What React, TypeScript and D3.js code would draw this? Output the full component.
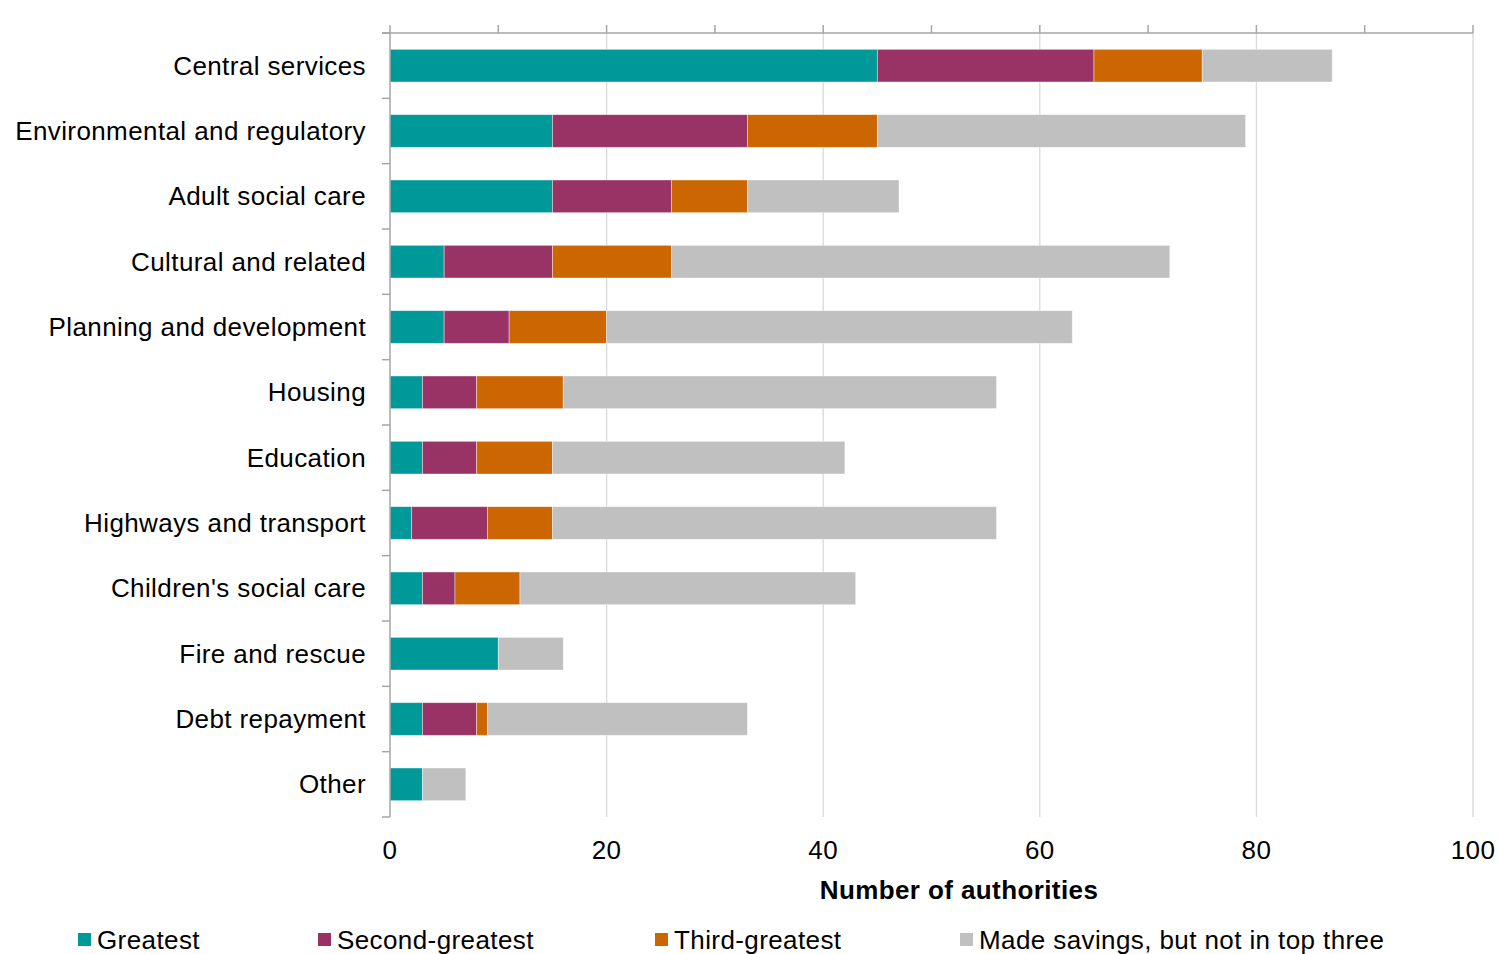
import React from "react";
import * as d3 from "d3";

const categories = [
  "Central services",
  "Environmental and regulatory",
  "Adult social care",
  "Cultural and related",
  "Planning and development",
  "Housing",
  "Education",
  "Highways and transport",
  "Children's social care",
  "Fire and rescue",
  "Debt repayment",
  "Other",
];
const greatest = [45, 15, 15, 5, 5, 3, 3, 2, 3, 10, 3, 3];
const secondGreatest = [20, 18, 11, 10, 6, 5, 5, 7, 3, 0, 5, 0];
const thirdGreatest = [10, 12, 7, 11, 9, 8, 7, 6, 6, 0, 1, 0];
const notTopThree = [12, 34, 14, 46, 43, 40, 27, 41, 31, 6, 24, 4];
const seriesNames = ["Greatest", "Second-greatest", "Third-greatest", "Made savings, but not in top three"];
const seriesColors = ["#009999", "#993366", "#CC6600", "#C0C0C0"];
const xTicks = [0, 20, 40, 60, 80, 100];
const xMinorTicks = [0, 10, 20, 30, 40, 50, 60, 70, 80, 90, 100];

const W = 1499;
const H = 954;
const left = 390;
const right = 1473;
const top = 33;
const bottom = 817;
const FONT = "'Liberation Sans', Arial, sans-serif";
const FS = 26;
const LS = 0.4;

export default function App() {
  const x = d3.scaleLinear().domain([0, 100]).range([left, right]);
  const y = d3.scaleBand<string>().domain(categories).range([top, bottom]).paddingInner(0.5).paddingOuter(0.25);
  const step = (bottom - top) / categories.length;
  const seriesData = [greatest, secondGreatest, thirdGreatest, notTopThree];
  const rows = categories.map((c, i) => {
    const o: any = { cat: c };
    seriesData.forEach((s, k) => (o["s" + k] = s[i]));
    return o;
  });
  const stack = d3.stack<any>().keys(["s0", "s1", "s2", "s3"])(rows);
  const legendX = [78, 318, 655, 960];
  const axisColor = "#A6A6A6";

  return (
    <div style={{ position: "absolute", left: 0, top: 0 }}>
      <svg width={W} height={H} style={{ display: "block", background: "#fff" }} fontFamily={FONT} letterSpacing={LS}>
        {xTicks.slice(1).map((t) => (
          <line key={"g" + t} x1={x(t)} x2={x(t)} y1={top} y2={bottom} stroke="#D9D9D9" strokeWidth={1.3} />
        ))}
        {stack.map((layer, k) => (
          <g key={k} fill={seriesColors[k]}>
            {layer.map((d, i) =>
              d[1] - d[0] > 0 ? (
                <rect
                  key={i}
                  x={x(d[0])}
                  y={y(categories[i])!}
                  width={x(d[1]) - x(d[0])}
                  height={y.bandwidth()}
                  stroke="#ffffff"
                  strokeOpacity={0.5}
                  strokeWidth={0.8}
                />
              ) : null
            )}
          </g>
        ))}
        {/* top axis */}
        <line x1={382} x2={right} y1={top} y2={top} stroke={axisColor} strokeWidth={1.5} />
        {xMinorTicks.map((t) => (
          <line key={"t" + t} x1={x(t)} x2={x(t)} y1={top - 8} y2={top} stroke={axisColor} strokeWidth={1.5} />
        ))}
        {/* left axis */}
        <line x1={left} x2={left} y1={top} y2={bottom} stroke={axisColor} strokeWidth={1.5} />
        {d3.range(categories.length + 1).map((i) => (
          <line key={"c" + i} x1={left - 8} x2={left} y1={top + i * step} y2={top + i * step} stroke={axisColor} strokeWidth={1.5} />
        ))}
        {categories.map((c) => (
          <text key={c} x={366} y={y(c)! + y.bandwidth() / 2} dy="0.35em" textAnchor="end" fontSize={FS} fill="#000">
            {c}
          </text>
        ))}
        {xTicks.map((t) => (
          <text key={"l" + t} x={x(t)} y={850} dy="0.35em" textAnchor="middle" fontSize={FS} fill="#000">
            {t}
          </text>
        ))}
        <text x={959} y={890} dy="0.35em" textAnchor="middle" fontSize={FS} fontWeight="bold" fill="#000">
          Number of authorities
        </text>
        {seriesNames.map((n, k) => (
          <g key={n}>
            <rect x={legendX[k]} y={933} width={13} height={13} fill={seriesColors[k]} />
            <text x={legendX[k] + 19} y={940} dy="0.35em" fontSize={FS} fill="#000">
              {n}
            </text>
          </g>
        ))}
      </svg>
    </div>
  );
}
